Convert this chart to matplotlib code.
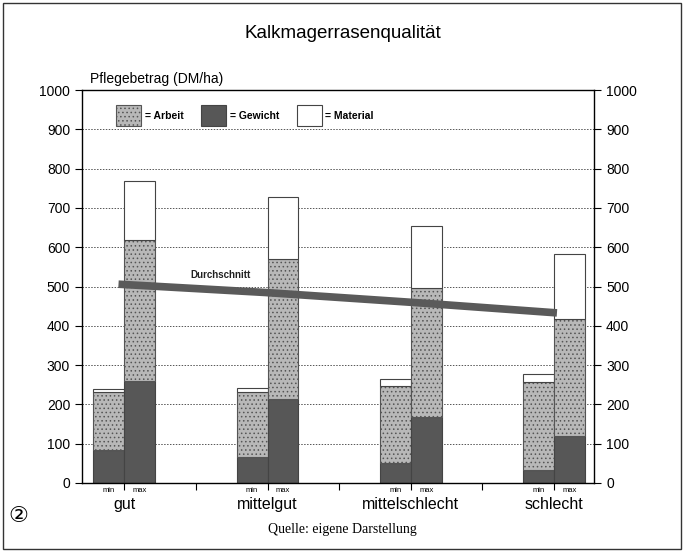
import numpy as np
import matplotlib
matplotlib.use("Agg")
import matplotlib.pyplot as plt
from matplotlib.patches import Patch, Rectangle

# ---------------------------------------------------------
# Data (DM/ha)
# ---------------------------------------------------------
categories = ["gut", "mittelgut", "mittelschlecht", "schlecht"]
gewicht_min = [84, 66, 51, 33]
arbeit_min = [148, 166, 196, 224]
material_min = [8, 10, 18, 20]
gewicht_max = [260, 214, 168, 120]
arbeit_max = [358, 356, 328, 297]
material_max = [150, 158, 158, 166]
durchschnitt = [506, 485, 460, 433]

plt.rcParams["font.family"] = ["Liberation Sans", "DejaVu Sans"]
plt.rcParams["hatch.color"] = "#7a7a7a"
plt.rcParams["hatch.linewidth"] = 0.6

fig = plt.figure(figsize=(6.83, 5.53), dpi=100)
ax = fig.add_axes([0.120, 0.1266, 0.750, 0.7104])

x = np.arange(len(categories))
w = 0.215
arbeit_style = dict(facecolor="#b8b8b8", hatch="....", edgecolor="#555555", linewidth=0.8)
gewicht_style = dict(facecolor="#575757", edgecolor="#444444", linewidth=0.8)
material_style = dict(facecolor="white", edgecolor="#444444", linewidth=0.8)

for pos, gew, arb, mat in [(x - w / 2, gewicht_min, arbeit_min, material_min),
                           (x + w / 2, gewicht_max, arbeit_max, material_max)]:
    gew = np.array(gew)
    arb = np.array(arb)
    ax.bar(pos, gew, w, zorder=2, **gewicht_style)
    ax.bar(pos, arb, w, bottom=gew, zorder=2, **arbeit_style)
    ax.bar(pos, mat, w, bottom=gew + arb, zorder=2, **material_style)

# average line (runs slightly past the first and last group)
x_line = np.linspace(-0.04, 3.02, len(categories))
ax.plot(x_line, durchschnitt, color="#5a5a5a", linewidth=5.5, solid_capstyle="butt", zorder=3)
ax.text(0.46, 522, "Durchschnitt", fontsize=7, fontweight="bold", color="#222222")

ax.set_xlim(-0.295, 3.28)
ax.set_ylim(0, 1000)
ax.set_yticks(range(0, 1001, 100))
ax.yaxis.grid(True, linestyle=(0, (1.5, 1.5)), color="#555555", linewidth=0.7, zorder=0)
ax.tick_params(axis="y", labelsize=10, direction="out", length=5, width=0.8,
               right=True, labelright=True)

# x ticks at group centres and between the groups
xt = sorted(list(x) + list(x[:-1] + 0.5))
ax.set_xticks(xt)
ax.set_xticklabels([])
ax.tick_params(axis="x", direction="out", length=5, width=0.8)

for xi, name in zip(x, categories):
    ax.text(xi - w / 2, -10, "min", fontsize=5.5, ha="center", va="top")
    ax.text(xi + w / 2, -10, "max", fontsize=5.5, ha="center", va="top")
    ax.text(xi, -36, name, fontsize=11.5, ha="center", va="top")

for side in ax.spines.values():
    side.set_linewidth(1.0)

# legend
handles = [Patch(**arbeit_style), Patch(**gewicht_style), Patch(**material_style)]
leg = ax.legend(handles, ["= Arbeit", "= Gewicht", "= Material"], ncol=3,
                loc="upper left", bbox_to_anchor=(0.055, 0.978), frameon=False,
                handlelength=2.4, handleheight=2.7, columnspacing=1.75,
                handletextpad=0.3, borderaxespad=0.2,
                prop={"size": 7.5, "weight": "bold"})

fig.text(0.502, 0.940, "Kalkmagerrasenqualität", fontsize=13.5, ha="center", va="center")
fig.text(0.132, 0.857, "Pflegebetrag (DM/ha)", fontsize=10, ha="left", va="center")
fig.text(0.502, 0.042, "Quelle: eigene Darstellung", fontsize=10, ha="center",
         va="center", family="Liberation Serif")
fig.text(0.027, 0.067, "②", fontsize=16, ha="center", va="center", family="DejaVu Sans")

fig.patches.append(Rectangle((0.004, 0.007), 0.993, 0.988, transform=fig.transFigure,
                             fill=False, edgecolor="#333333", linewidth=1.0))

fig.savefig("out.png", dpi=100)
